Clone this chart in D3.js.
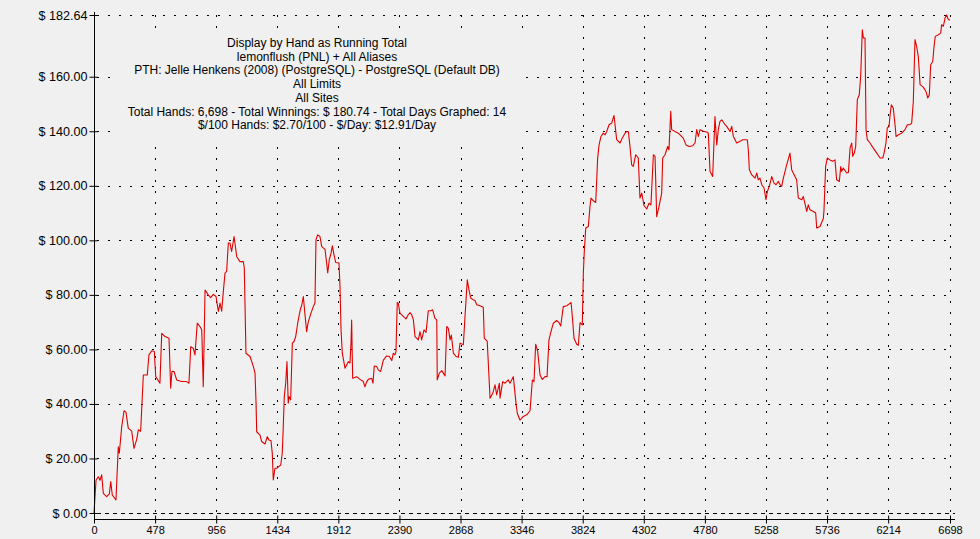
<!DOCTYPE html>
<html>
<head>
<meta charset="utf-8">
<script src="https://cdn.jsdelivr.net/npm/d3@7/dist/d3.min.js"></script>
<style>
  html, body { margin: 0; padding: 0; background: #f0f0f0; }
  svg { display: block; }
  text { font-family: "Liberation Sans", Arial, sans-serif; }
</style>
</head>
<body>
<svg id="chart" width="980" height="539"></svg>
<script>
// ---- data ----
const hands = [0,16,34,47,60,73,99,120,131,143,172,190,198,217,235,250,268,295,313,334,347,365,386,399,417,430,452,472,483,516,530,556,587,600,610,626,647,686,725,743,757,777,790,808,829,843,855,869,894,913,934,955,973,986,999,1012,1025,1038,1051,1064,1077,1096,1117,1142,1168,1176,1182,1189,1221,1247,1260,1268,1273,1299,1312,1338,1356,1369,1385,1395,1403,1416,1430,1448,1461,1473,1481,1489,1500,1510,1520,1526,1539,1552,1565,1578,1594,1606,1617,1625,1638,1651,1664,1677,1698,1716,1729,1737,1750,1768,1782,1808,1829,1841,1855,1865,1878,1891,1917,1925,1933,1943,1964,1977,1990,2003,2011,2016,2024,2056,2081,2107,2120,2134,2146,2173,2183,2193,2212,2225,2243,2264,2290,2311,2330,2342,2355,2363,2373,2381,2394,2420,2441,2459,2473,2486,2499,2512,2538,2551,2564,2582,2598,2616,2635,2650,2668,2682,2686,2702,2721,2747,2760,2772,2786,2796,2812,2833,2851,2864,2890,2903,2921,2934,2948,2968,2981,2995,3020,3046,3054,3077,3099,3120,3138,3151,3172,3177,3198,3216,3242,3255,3281,3302,3312,3333,3359,3386,3412,3430,3443,3456,3472,3490,3508,3529,3545,3560,3576,3594,3620,3639,3652,3672,3699,3719,3733,3743,3756,3777,3790,3803,3821,3829,3837,3848,3868,3881,3889,3907,3926,3941,3952,3967,3985,3999,4012,4030,4051,4069,4077,4090,4116,4134,4155,4168,4181,4194,4207,4220,4239,4259,4272,4286,4304,4325,4343,4358,4377,4390,4403,4421,4442,4450,4468,4489,4499,4513,4520,4546,4572,4611,4632,4658,4685,4703,4716,4729,4742,4768,4794,4807,4820,4841,4852,4859,4873,4885,4898,4912,4938,4951,4977,4990,5003,5029,5055,5076,5112,5120,5128,5147,5173,5186,5198,5211,5225,5243,5258,5269,5284,5303,5321,5337,5355,5368,5381,5394,5420,5446,5459,5485,5498,5511,5538,5550,5577,5589,5602,5629,5647,5655,5681,5707,5712,5725,5738,5759,5780,5798,5811,5832,5843,5851,5863,5890,5903,5916,5929,5937,5949,5960,5973,5988,5999,6012,6020,6033,6041,6051,6072,6098,6125,6151,6172,6182,6197,6207,6221,6228,6239,6254,6268,6276,6294,6320,6346,6364,6385,6398,6411,6424,6437,6450,6464,6489,6510,6524,6536,6547,6563,6573,6583,6607,6625,6633,6646,6659,6672,6685,6698];
const winnings = [0,12.1,13.3,12,14,7.2,6,7,11.5,6.6,4.8,24.3,21.9,31.7,37.5,37,31.1,30,23.7,27,30.5,30,50.6,50.6,50.6,58,59.5,59.2,50,47.6,65.9,64.7,64.1,45.8,52,51.9,48.8,48.2,48.2,47.6,61,60.4,58,69.6,68.4,67.2,46.3,81.8,80,79,80.2,79.4,73.9,77,74,81.2,88,88.6,99,99,95.9,101.4,94,92.2,92.2,90,75.7,58.6,57.4,53.7,51.3,40.3,29.8,28.6,26.2,25.3,28,26.8,26.5,21.9,12.1,16.4,16.4,17.1,17.6,21.9,31.7,42.7,47.6,55.5,40.3,42.7,41.5,62.3,62.9,64.7,69.6,72.7,75.1,76,79.4,72.7,66.5,70.2,73.3,75.7,77,100.2,102,101.4,97.7,96.7,88,92.9,95.3,98,94.7,91.9,91.7,83,67.2,58.6,53.1,54.3,55.5,55,62.3,70.8,49.4,50,49,48.2,46.3,48.2,49,49.4,47.6,53.9,53.7,52.4,51.9,56.1,57.6,57.4,55.9,58.6,58,59.2,77.2,76.9,73.3,72.1,71.2,72.7,73.5,72.7,70.8,64.7,63.5,66.5,63.5,67.2,66.2,74.2,74.2,74.5,71.4,70.8,48.8,51.3,52.2,50.3,68.4,67.8,63.5,65.3,58.6,57.4,57.1,62.3,61.7,72,85.5,81.8,78.8,78.2,77.9,76.4,76,75.5,64.1,62.9,42.1,43.9,47,43.3,47.6,42.1,48.2,47.6,48.8,47.6,50,40.3,36.6,34.1,35.4,36,37.5,48.8,48.2,61.9,59.2,50.6,49,50,50,63.5,66.5,69.6,70.6,69.8,68.6,75.7,76,76.7,77.2,72,64.1,61.9,61.5,69.8,69,88,96.5,104.5,105.1,112.4,115.5,114.5,113.9,130.2,135,138.1,139.3,138.7,139.9,142.4,143,145.8,142.4,136.9,135.7,137.5,139.3,139.9,139.9,134.4,127.7,127.1,131.4,130.2,115.5,117.3,112.7,111.5,113.6,113,131.4,130.8,108.7,112.4,117.3,130.2,131.4,134.4,133.2,147.3,140.6,139.9,139.3,137.5,135,134.4,134.7,135.7,140.6,138.1,140.6,140,139.7,139.3,125.3,123.4,136.9,145.4,135,140.6,143.6,144.2,142.4,141.8,139.9,141.8,138.1,135.7,136.3,136.9,136.9,133.2,125.9,124,122.8,124.7,122.2,122.8,120.4,119.2,114.9,117.9,119.8,123.4,121,120.4,121.6,120.4,119.8,122.8,127.7,132,125.9,123.4,122.2,115.5,114.9,116.1,110.6,113,111.2,110.6,110,104.5,105.1,108,111,127.1,130.2,129.5,129,129.5,122.2,121.6,127.1,125.3,126.5,124.7,124.9,133.8,135.7,130.8,132,134.4,151.6,153.4,160.1,177.2,174.2,174.2,140.6,136.9,135.7,133.8,132,130.2,130.2,132,135.7,141.2,141.8,145.4,149.7,148.5,142.4,138.1,138.7,139.3,140.6,142.4,142.4,143,150.9,173.6,171.1,167.4,157.1,156.2,154.6,152.2,153.4,164.4,165.6,171.1,174.8,175.4,176,179.1,178.5,181.5,182.64,181,180.74];
const xTickValues = [0,478,956,1434,1912,2390,2868,3346,3824,4302,4780,5258,5736,6214,6698];
const yTickValues = [0,20,40,60,80,100,120,140,160,182.64];
const titleLines = [
  "Display by Hand as Running Total",
  "lemonflush (PNL) + All Aliases",
  "PTH: Jelle Henkens (2008) (PostgreSQL) - PostgreSQL (Default DB)",
  "All Limits",
  "All Sites",
  "Total Hands: 6,698 - Total Winnings: $ 180.74 - Total Days Graphed: 14",
  "$/100 Hands: $2.70/100 - $/Day: $12.91/Day"
];

// ---- layout ----
const svg = d3.select("#chart");
const x = d3.scaleLinear().domain([0, 6698]).range([94, 950]);
const y = d3.scaleLinear().domain([0, 182.64]).range([513, 15]);
const axisY = 519, gridRight = 955;

svg.append("rect").attr("width", 980).attr("height", 539).attr("fill", "#f0f0f0");

// horizontal grid (dotted)
svg.append("g").selectAll("line")
  .data(yTickValues.filter(d => d !== 0))
  .join("line")
  .attr("x1", 97).attr("x2", gridRight)
  .attr("y1", d => Math.round(y(d)) + 0.5).attr("y2", d => Math.round(y(d)) + 0.5)
  .attr("stroke", "#000").attr("stroke-width", 1).attr("stroke-dasharray", "2,9");

// vertical grid (dotted)
svg.append("g").selectAll("line")
  .data(xTickValues.filter(d => d !== 0))
  .join("line")
  .attr("x1", d => Math.round(x(d)) + 0.5).attr("x2", d => Math.round(x(d)) + 0.5)
  .attr("y1", 15).attr("y2", axisY - 4)
  .attr("stroke", "#000").attr("stroke-width", 1).attr("stroke-dasharray", "2,9");

// zero line (dashed)
svg.append("line")
  .attr("x1", 97).attr("x2", gridRight)
  .attr("y1", Math.round(y(0)) + 0.5).attr("y2", Math.round(y(0)) + 0.5)
  .attr("stroke", "#000").attr("stroke-width", 1).attr("stroke-dasharray", "4,4");

// title block background (hides grid behind text)
svg.append("rect")
  .attr("x", 110).attr("y", 28).attr("width", 414).attr("height", 110)
  .attr("fill", "#f0f0f0");

// data line
const line = d3.line().x((d, i) => x(hands[i])).y(d => y(d));
svg.append("path")
  .datum(winnings)
  .attr("d", line)
  .attr("fill", "none")
  .attr("stroke", "#e00000")
  .attr("stroke-width", 1.1)
  .attr("stroke-linejoin", "round");

// y axis
const yAxis = d3.axisLeft(y)
  .tickValues(yTickValues)
  .tickSize(5).tickSizeOuter(0).tickPadding(2)
  .tickFormat(d => "$ " + d.toFixed(2));
const gy = svg.append("g").attr("transform", "translate(94.5,0)").call(yAxis);
gy.select(".domain").remove();
gy.selectAll(".tick line").attr("x1", 3).attr("x2", -5).attr("stroke", "#000");
gy.selectAll(".tick text").attr("font-size", 12.6).attr("fill", "#000")
  .attr("font-family", "'Liberation Sans', Arial, sans-serif");
svg.append("line").attr("x1", 94.5).attr("x2", 94.5).attr("y1", 12).attr("y2", axisY + 0.5)
  .attr("stroke", "#000");

// x axis
const xAxis = d3.axisBottom(x)
  .tickValues(xTickValues)
  .tickSize(4).tickSizeOuter(0).tickPadding(3)
  .tickFormat(d3.format("d"));
const gx = svg.append("g").attr("transform", `translate(0,${axisY + 0.5})`).call(xAxis);
gx.select(".domain").remove();
gx.selectAll(".tick line").attr("y1", -4).attr("y2", 4).attr("stroke", "#000");
gx.selectAll(".tick text").attr("font-size", 11).attr("fill", "#000")
  .attr("font-family", "'Liberation Sans', Arial, sans-serif");
svg.append("line").attr("x1", 94).attr("x2", gridRight).attr("y1", axisY + 0.5).attr("y2", axisY + 0.5)
  .attr("stroke", "#000");

// title block
svg.append("g").selectAll("text")
  .data(titleLines)
  .join("text")
  .attr("x", 317)
  .attr("y", (d, i) => 47 + i * 13.7)
  .attr("text-anchor", "middle")
  .attr("font-size", 12)
  .attr("fill", "#000")
  .text(d => d);
</script>
</body>
</html>
